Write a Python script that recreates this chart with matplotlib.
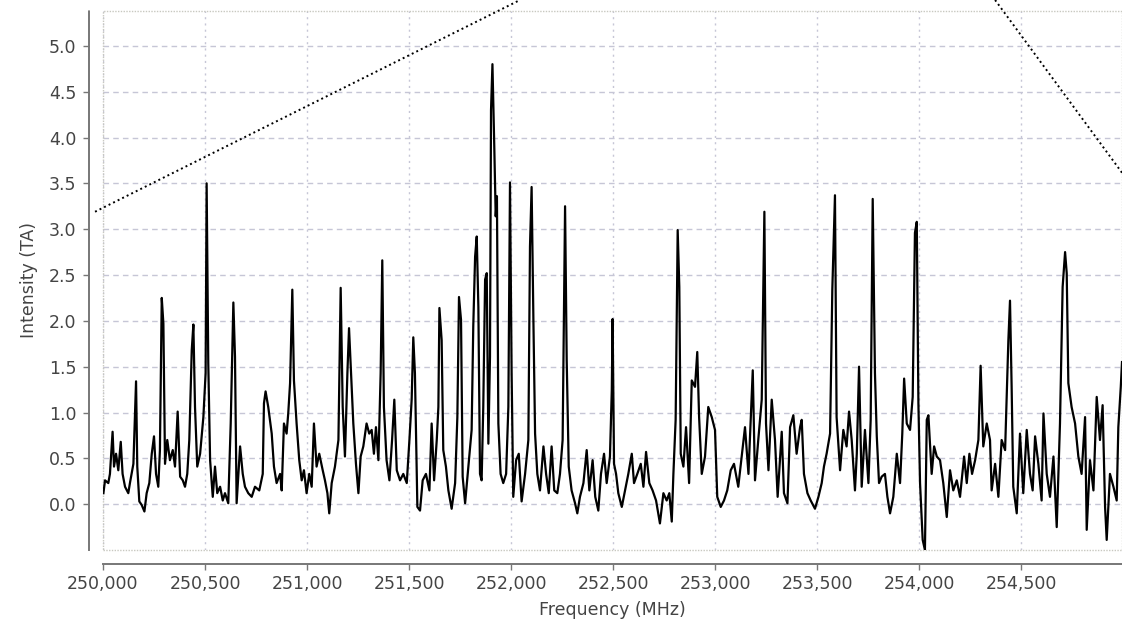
import matplotlib
matplotlib.use('Agg')
import matplotlib.pyplot as plt
from matplotlib.patches import Rectangle
from matplotlib.ticker import FuncFormatter

# ── Data ─────────────────────────────────────────────────────────────────────
freq_mhz = [
    250002, 250010, 250026, 250034, 250047, 250054, 250064, 250075, 250087, 250096,
    250108, 250124, 250132, 250149, 250157, 250162, 250168, 250178, 250190, 250203,
    250214, 250227, 250239, 250250, 250260, 250271, 250279, 250288, 250296, 250304,
    250315, 250328, 250342, 250353, 250366, 250378, 250391, 250402, 250413, 250423,
    250435, 250443, 250451, 250462, 250476, 250492, 250503, 250508, 250516, 250525,
    250538, 250549, 250560, 250574, 250587, 250598, 250614, 250626, 250639, 250647,
    250655, 250672, 250685, 250696, 250712, 250729, 250745, 250766, 250783, 250789,
    250797, 250810, 250827,
    250838, 250851, 250868, 250876, 250887, 250900, 250908, 250917, 250928, 250936,
    250949, 250962, 250974, 250985, 250998, 251011, 251023, 251034, 251047, 251060,
    251077, 251088, 251100, 251109, 251121, 251137, 251154, 251165, 251175, 251186,
    251198, 251206, 251214, 251227, 251240, 251252, 251263, 251276, 251292, 251305,
    251317, 251328, 251338, 251350, 251361, 251369, 251377, 251390, 251404, 251417,
    251428, 251440, 251456, 251472, 251489, 251502, 251513, 251521, 251529, 251541,
    251554, 251567, 251583, 251600, 251611, 251623, 251636, 251644, 251649, 251660,
    251668, 251681, 251693, 251709, 251726, 251737, 251745, 251755, 251763, 251775,
    251791, 251807, 251815, 251824, 251832, 251840, 251848, 251856, 251864, 251873,
    251881, 251889, 251897, 251902, 251909, 251918, 251925, 251931, 251938, 251949,
    251962, 251976, 251987, 251995, 252003, 252011, 252025, 252038, 252052, 252069,
    252085, 252093, 252101, 252110, 252118, 252129, 252142, 252159, 252172, 252185,
    252199, 252212, 252227, 252240, 252253, 252265, 252273, 252283, 252297, 252314,
    252325, 252338, 252355, 252371, 252384, 252400, 252413, 252428, 252441, 252456,
    252469, 252485, 252494, 252498,
    252505, 252515, 252526, 252543, 252559, 252575, 252592, 252603, 252619, 252636,
    252649, 252662, 252678, 252694, 252711, 252730, 252747, 252763, 252776, 252788,
    252796, 252807, 252817, 252825, 252832, 252845, 252858, 252873, 252886, 252902,
    252913, 252922, 252935, 252951, 252967, 252984, 253000, 253011, 253028, 253044,
    253060, 253077, 253093, 253114, 253131, 253147, 253164, 253175, 253185, 253196,
    253212, 253229, 253242, 253250, 253262, 253278, 253294, 253307, 253327,
    253338, 253355, 253368, 253384, 253400, 253417, 253425, 253436, 253453, 253469,
    253490, 253507, 253523, 253534, 253547, 253564, 253575, 253588, 253596, 253613,
    253629, 253645, 253657, 253670, 253686, 253695, 253706, 253719, 253735, 253752,
    253763, 253773, 253784, 253793, 253804, 253817, 253833, 253845, 253858, 253874,
    253891, 253907, 253918, 253927, 253940, 253956, 253969, 253980, 253989, 253997,
    254005, 254018, 254029, 254038, 254046, 254062, 254074, 254087, 254103, 254119,
    254136, 254152,
    254168, 254185, 254201, 254221, 254234, 254247, 254260, 254275, 254291, 254302,
    254315, 254332, 254348, 254356, 254373, 254389, 254405, 254422, 254438, 254446,
    254454, 254462, 254479, 254495, 254511, 254528, 254544, 254557, 254569, 254585,
    254601, 254610, 254626, 254642, 254659, 254675, 254691, 254704, 254716, 254724,
    254732, 254748, 254765, 254781, 254797, 254814, 254822, 254838, 254855, 254871,
    254887, 254900, 254912, 254920, 254936, 254953, 254969, 254977, 254989, 254995,
]

intensity_ta = [
    0.12, 0.26, 0.23, 0.33, 0.79, 0.41, 0.55, 0.37, 0.68, 0.33,
    0.19, 0.12, 0.23, 0.44, 0.99, 1.34, 0.41, 0.03, -0.01, -0.08,
    0.12, 0.23, 0.55, 0.74, 0.33, 0.19, 0.59, 2.25, 1.97, 0.44,
    0.70, 0.48, 0.59, 0.41, 1.01, 0.30, 0.26, 0.19, 0.33, 0.70,
    1.68, 1.96, 1.06, 0.41, 0.55, 0.95, 1.43, 3.50, 1.54, 0.48,
    0.08, 0.41, 0.12, 0.19, 0.04, 0.12, 0.01, 0.88, 2.20, 1.61,
    0.01, 0.63, 0.33, 0.19, 0.12, 0.08, 0.19, 0.15, 0.33, 1.10,
    1.23, 1.06, 0.77,
    0.41, 0.23, 0.33, 0.15, 0.88, 0.77, 0.99, 1.32, 2.34, 1.35,
    0.88, 0.48, 0.26, 0.37, 0.12, 0.33, 0.19, 0.88, 0.41, 0.55,
    0.37, 0.26, 0.12, -0.10, 0.23, 0.41, 0.70, 2.36, 1.06, 0.52,
    1.43, 1.92, 1.52, 0.88, 0.44, 0.12, 0.52, 0.63, 0.88, 0.77,
    0.81, 0.55, 0.84, 0.48, 1.43, 2.66, 1.06, 0.48, 0.26, 0.70,
    1.14, 0.37, 0.26, 0.33, 0.23, 0.70, 1.14, 1.82, 1.43, -0.03,
    -0.07, 0.26, 0.33, 0.15, 0.88, 0.26, 0.70, 1.06, 2.14, 1.79,
    0.59, 0.41, 0.15, -0.05, 0.23, 0.95, 2.26, 2.01, 0.30, 0.01,
    0.41, 0.81, 1.94, 2.70, 2.92, 2.15, 0.33, 0.26, 1.06, 2.45,
    2.52, 0.66, 1.61, 4.30, 4.80, 3.90, 3.14, 3.36, 0.88, 0.33,
    0.23, 0.33, 1.06, 3.51, 1.43, 0.08, 0.48, 0.55, 0.03, 0.33,
    0.70, 2.81, 3.46, 1.97, 0.77, 0.33, 0.15, 0.63, 0.33, 0.12,
    0.63, 0.15, 0.12, 0.33, 0.70, 3.25, 1.57, 0.41, 0.15, 0.01,
    -0.10, 0.08, 0.23, 0.59, 0.15, 0.48, 0.08, -0.07, 0.33, 0.55,
    0.23, 0.52, 1.24, 2.02,
    0.44, 0.33, 0.12, -0.03, 0.15, 0.33, 0.55, 0.23, 0.33, 0.44,
    0.19, 0.57, 0.23, 0.15, 0.04, -0.21, 0.12, 0.04, 0.12, -0.19,
    0.33, 0.92, 2.99, 2.37, 0.55, 0.41, 0.84, 0.23, 1.35, 1.28,
    1.66, 0.95, 0.33, 0.52, 1.06, 0.95, 0.81, 0.08, -0.03, 0.04,
    0.15, 0.37, 0.44, 0.19, 0.52, 0.84, 0.33, 0.92, 1.46, 0.26,
    0.70, 1.14, 3.19, 0.88, 0.37, 1.14, 0.70, 0.08, 0.79,
    0.12, 0.01, 0.84, 0.97, 0.55, 0.84, 0.92, 0.33, 0.12, 0.04,
    -0.05, 0.08, 0.23, 0.41, 0.55, 0.77, 2.34, 3.37, 0.95, 0.37,
    0.81, 0.63, 1.01, 0.70, 0.15, 0.55, 1.50, 0.19, 0.81, 0.23,
    0.92, 3.33, 1.43, 0.74, 0.23, 0.30, 0.33, 0.08, -0.10, 0.08,
    0.55, 0.23, 0.77, 1.37, 0.88, 0.81, 1.17, 2.96, 3.08, 1.10,
    0.23, -0.39, -0.50, 0.92, 0.97, 0.33, 0.63, 0.52, 0.48, 0.23,
    -0.14, 0.37,
    0.15, 0.26, 0.08, 0.52, 0.23, 0.55, 0.33, 0.48, 0.70, 1.51,
    0.63, 0.88, 0.70, 0.15, 0.44, 0.08, 0.70, 0.59, 1.79, 2.22,
    1.28, 0.19, -0.10, 0.77, 0.12, 0.81, 0.33, 0.15, 0.74, 0.44,
    0.04, 0.99, 0.33, 0.08, 0.52, -0.25, 0.88, 2.37, 2.75, 2.52,
    1.32, 1.06, 0.88, 0.52, 0.33, 0.95, -0.28, 0.48, 0.15, 1.17,
    0.70, 1.08, -0.03, -0.39, 0.33, 0.19, 0.04, 0.84, 1.28, 1.55,
]

x_ticks = [250000, 250500, 251000, 251500, 252000, 252500,
           253000, 253500, 254000, 254500]
y_ticks = [0.0, 0.5, 1.0, 1.5, 2.0, 2.5, 3.0, 3.5, 4.0, 4.5, 5.0]

# dotted guide lines that cross the chart (frequency, intensity)
guide_left_x = [249961, 252044]
guide_left_y = [3.19, 5.50]
guide_right_x = [254373, 255020]
guide_right_y = [5.50, 3.54]

X_MIN, X_MAX = 250000, 254995
Y_MIN, Y_MAX = -0.5, 5.38

TEXT = '#444444'
GRID = '#c6c6d6'

# ── Plot ─────────────────────────────────────────────────────────────────────
fig = plt.figure(figsize=(11.22, 6.24), dpi=100)
ax = fig.add_axes([103 / 1122, 74 / 624, 1019 / 1122, 539 / 624])

ax.plot(freq_mhz, intensity_ta, color='black', lw=1.6, zorder=3)

ax.plot(guide_left_x, guide_left_y, color='black', lw=1.4,
        linestyle=(0, (1, 1.6)), clip_on=False, zorder=4)
ax.plot(guide_right_x, guide_right_y, color='black', lw=1.4,
        linestyle=(0, (1, 1.6)), clip_on=False, zorder=4)

ax.set_xlim(X_MIN, X_MAX)
ax.set_ylim(Y_MIN, Y_MAX)
ax.set_xticks(x_ticks)
ax.set_yticks(y_ticks)
ax.xaxis.set_major_formatter(FuncFormatter(lambda v, p: f"{v:,.0f}"))
ax.yaxis.set_major_formatter(FuncFormatter(lambda v, p: f"{v:.1f}"))

# grid: dashed horizontals, dotted verticals
ax.grid(axis='y', color=GRID, lw=1, linestyle=(0, (4, 3)), zorder=1)
ax.grid(axis='x', color=GRID, lw=1, linestyle=(0, (1.5, 3)), zorder=1)

# plot-area border
ax.add_patch(Rectangle((0, 0), 1, 1, transform=ax.transAxes, fill=False,
                       ec='#c8c8c0', lw=1, linestyle=(0, (1, 1)),
                       clip_on=False, zorder=2))

for side in ('top', 'right'):
    ax.spines[side].set_visible(False)
for side in ('left', 'bottom'):
    ax.spines[side].set_position(('outward', 10))
    ax.spines[side].set_color('#777777')
    ax.spines[side].set_linewidth(1.4)
    ax.spines[side].set_linestyle((0, (1, 1)))

ax.tick_params(axis='both', colors='#777777', labelcolor=TEXT,
               labelsize=12.5, length=4, width=1)
ax.tick_params(axis='x', pad=4)
ax.tick_params(axis='y', pad=5)

ax.set_xlabel('Frequency (MHz)', fontsize=12.5, color=TEXT, labelpad=6)
ax.set_ylabel('Intensity (TA)', fontsize=12.5, color=TEXT, labelpad=8)

fig.savefig('out.png', dpi=100)
